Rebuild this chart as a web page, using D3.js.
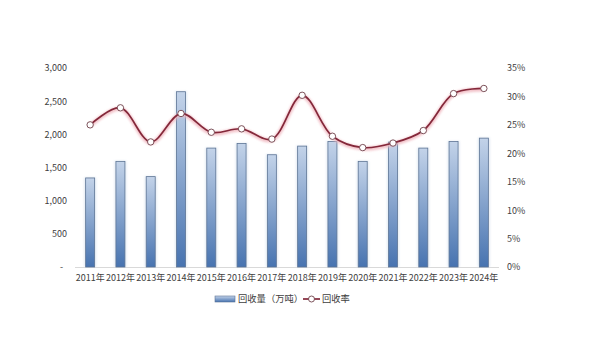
<!DOCTYPE html>
<html><head><meta charset="utf-8">
<script src="https://cdn.jsdelivr.net/npm/d3@7"></script>
<style>
html,body{margin:0;padding:0;background:#fff;}
svg{display:block;}
text{font-family:"Noto Sans CJK SC","Noto Sans",sans-serif;fill:#404040;}
</style></head>
<body><svg id="c" width="600" height="357"></svg>
<script>
const years = ["2011年","2012年","2013年","2014年","2015年","2016年","2017年","2018年","2019年","2020年","2021年","2022年","2023年","2024年"];
const volume = [1350,1600,1370,2650,1800,1870,1700,1830,1900,1600,1890,1800,1900,1950];
const rate = [25.0,28.0,22.0,27.0,23.7,24.3,22.5,30.2,23.0,21.0,21.8,24.0,30.5,31.4];
const leftTicks = [0,500,1000,1500,2000,2500,3000];
const rightTicks = [0,5,10,15,20,25,30,35];
const seriesNames = ["回收量（万吨）","回收率"];

const svg = d3.select("#c");
const x0 = 75, x1 = 499, yTop = 68, yBot = 267;
const x = d3.scaleBand().domain(years).range([x0,x1]).paddingInner(0.67).paddingOuter(0.335);
const yL = d3.scaleLinear().domain([0,3000]).range([yBot,yTop]);
const yR = d3.scaleLinear().domain([0,35]).range([yBot,yTop]);

const defs = svg.append("defs");
const g = defs.append("linearGradient").attr("id","barg").attr("x1",0).attr("y1",0).attr("x2",0).attr("y2",1);
g.append("stop").attr("offset","0%").attr("stop-color","#c3d3e9");
g.append("stop").attr("offset","100%").attr("stop-color","#4773b0");
const gl = defs.append("linearGradient").attr("id","legg").attr("x1",0).attr("y1",0).attr("x2",0).attr("y2",1);
gl.append("stop").attr("offset","0%").attr("stop-color","#c3d3e9");
gl.append("stop").attr("offset","100%").attr("stop-color","#4773b0");
const blur = defs.append("filter").attr("id","glow").attr("x","-20%").attr("y","-20%").attr("width","140%").attr("height","140%");
blur.append("feGaussianBlur").attr("stdDeviation",1.2);

// axis line
svg.append("line").attr("x1",x0).attr("x2",x1).attr("y1",yBot+0.5).attr("y2",yBot+0.5)
  .attr("stroke","#d9d9d9").attr("stroke-width",1);

// left axis labels
const fmt = d => d===0 ? "-" : d3.format(",")(d);
const la = svg.append("g").attr("transform",`translate(67,0)`)
  .call(d3.axisLeft(yL).tickValues(leftTicks).tickFormat(fmt).tickSize(0).tickPadding(0));
la.select(".domain").remove();
la.selectAll("text").attr("font-size",9).attr("fill","#404040").style("font-family",'"Noto Sans CJK SC",sans-serif');
la.selectAll(".tick").filter(d=>d===0).select("text").attr("dx",-4);

const ra = svg.append("g").attr("transform",`translate(507,0)`)
  .call(d3.axisRight(yR).tickValues(rightTicks).tickFormat(d=>d+"%").tickSize(0).tickPadding(0));
ra.select(".domain").remove();
ra.selectAll("text").attr("font-size",9).attr("fill","#404040").style("font-family",'"Noto Sans CJK SC",sans-serif');

// x labels
const xa = svg.append("g").attr("transform",`translate(0,${yBot})`)
  .call(d3.axisBottom(x).tickSize(0).tickPadding(8));
xa.select(".domain").remove();
xa.selectAll("text").attr("font-size",9).attr("fill","#404040").style("font-family",'"Noto Sans CJK SC",sans-serif');

// bar shadows
svg.append("g").selectAll("rect").data(years).join("rect")
  .attr("x",d=>x(d)-1).attr("width",x.bandwidth()+2)
  .attr("y",(d,i)=>yL(volume[i])).attr("height",(d,i)=>yBot-yL(volume[i]))
  .attr("fill","#dbe5f1").attr("filter","url(#glow)").attr("opacity",0.8);
// bars
svg.append("g").selectAll("rect").data(years).join("rect")
  .attr("x",d=>x(d)+0.5).attr("width",x.bandwidth()-1)
  .attr("y",(d,i)=>yL(volume[i])+0.5).attr("height",(d,i)=>yBot-yL(volume[i])-0.5)
  .attr("fill","url(#barg)").attr("stroke","#5d7494").attr("stroke-width",0.8);

// line
const pts = years.map((d,i)=>[x(d)+x.bandwidth()/2, yR(rate[i])]);
const line = d3.line().curve(d3.curveCatmullRom.alpha(0.5));
svg.append("path").attr("d",line(pts.map(p=>[p[0],p[1]+1]))).attr("fill","none")
  .attr("stroke","#f0b8c0").attr("stroke-width",4).attr("filter","url(#glow)").attr("opacity",0.85);
svg.append("path").attr("d",line(pts)).attr("fill","none")
  .attr("stroke","#84283a").attr("stroke-width",1.7);
svg.append("g").selectAll("circle").data(pts).join("circle")
  .attr("cx",d=>d[0]).attr("cy",d=>d[1]).attr("r",3.2)
  .attr("fill","#fff").attr("stroke","#6e4048").attr("stroke-width",0.9);

// legend
const ly = 299;
svg.append("rect").attr("x",215).attr("y",ly-3).attr("width",20).attr("height",6)
  .attr("fill","url(#legg)").attr("stroke","#5d7494").attr("stroke-width",0.6);
svg.append("text").attr("x",238).attr("y",ly).attr("dy","0.35em").attr("font-size",9.3).text(seriesNames[0]);
svg.append("line").attr("x1",303).attr("x2",320).attr("y1",ly).attr("y2",ly).attr("stroke","#84283a").attr("stroke-width",1.7);
svg.append("circle").attr("cx",311.5).attr("cy",ly).attr("r",3).attr("fill","#fff").attr("stroke","#6e4048").attr("stroke-width",0.9);
svg.append("text").attr("x",322).attr("y",ly).attr("dy","0.35em").attr("font-size",9.3).text(seriesNames[1]);
</script></body></html>
